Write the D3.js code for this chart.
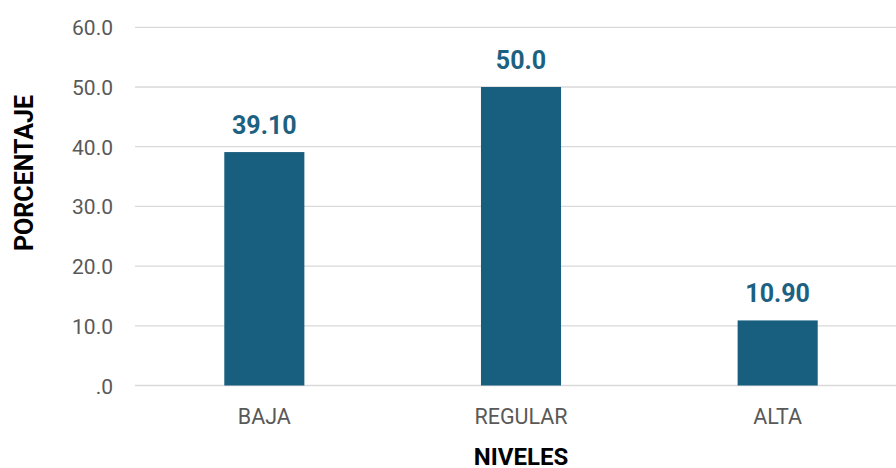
<!DOCTYPE html>
<html>
<head>
<meta charset="utf-8">
<script src="https://cdn.jsdelivr.net/npm/d3@7"></script>
<style>
  html, body { margin: 0; padding: 0; background: #fff; }
  svg { display: block; font-family: Roboto, "Liberation Sans", Arial, sans-serif; }
</style>
</head>
<body>
<svg id="chart" width="896" height="468"></svg>
<script>
const categories = ["BAJA", "REGULAR", "ALTA"];
const values = [39.1, 50.0, 10.9];
const valueLabels = ["39.10", "50.0", "10.90"];
const tickValues = [0, 10, 20, 30, 40, 50, 60];
const tickLabels = [".0", "10.0", "20.0", "30.0", "40.0", "50.0", "60.0"];
const yTitle = "PORCENTAJE";
const xTitle = "NIVELES";

const svg = d3.select("#chart");
const plotLeft = 136, plotRight = 906, plotTop = 27.3, plotBottom = 385.5;

const x = d3.scaleBand().domain(categories).range([plotLeft, plotRight])
  .paddingInner(0.688).paddingOuter(0.344);
const y = d3.scaleLinear().domain([0, 60]).range([plotBottom, plotTop]);

const barColor = "#185e7f";
const labelColor = "#1c6181";
const gray = "#595959";

// gridlines
svg.append("g").selectAll("line").data(tickValues).join("line")
  .attr("x1", 135).attr("x2", plotRight)
  .attr("y1", d => y(d)).attr("y2", d => y(d))
  .attr("stroke", "#d9d9d9").attr("stroke-width", 1.3);

// y axis labels
const yAxis = d3.axisLeft(y).tickValues(tickValues)
  .tickFormat((d, i) => tickLabels[i]).tickSize(0).tickPadding(0);
const gy = svg.append("g").attr("transform", "translate(113,0)").call(yAxis);
gy.select(".domain").remove();
gy.selectAll("text").attr("font-size", 21).attr("fill", gray)
  .attr("font-family", "Roboto, 'Liberation Sans', Arial, sans-serif")
  .attr("dy", "0.36em");

// bars
svg.append("g").selectAll("rect").data(values).join("rect")
  .attr("x", (d, i) => x(categories[i]))
  .attr("width", x.bandwidth())
  .attr("y", d => y(d))
  .attr("height", d => y(0) - y(d))
  .attr("fill", barColor);

// value labels
svg.append("g").selectAll("text").data(values).join("text")
  .attr("x", (d, i) => x(categories[i]) + x.bandwidth() / 2)
  .attr("y", d => y(d) - 18.5)
  .attr("text-anchor", "middle")
  .attr("font-size", 25).attr("font-weight", "bold")
  .attr("fill", labelColor)
  .text((d, i) => valueLabels[i]);

// x axis labels
const xAxis = d3.axisBottom(x).tickSize(0).tickPadding(0);
const gx = svg.append("g").attr("transform", `translate(0,${plotBottom})`).call(xAxis);
gx.select(".domain").remove();
gx.selectAll("text").attr("font-size", 21.5).attr("fill", gray)
  .attr("font-family", "Roboto, 'Liberation Sans', Arial, sans-serif")
  .attr("dy", 0).attr("y", 38.5);

// axis titles
svg.append("text")
  .attr("transform", "translate(33,173) rotate(-90)")
  .attr("text-anchor", "middle")
  .attr("font-size", 25).attr("font-weight", "bold").attr("fill", "#000")
  .text(yTitle);

svg.append("text")
  .attr("x", (x("REGULAR") + x.bandwidth() / 2))
  .attr("y", 465)
  .attr("text-anchor", "middle")
  .attr("font-size", 24).attr("font-weight", "bold").attr("fill", "#000")
  .text(xTitle);
</script>
</body>
</html>
